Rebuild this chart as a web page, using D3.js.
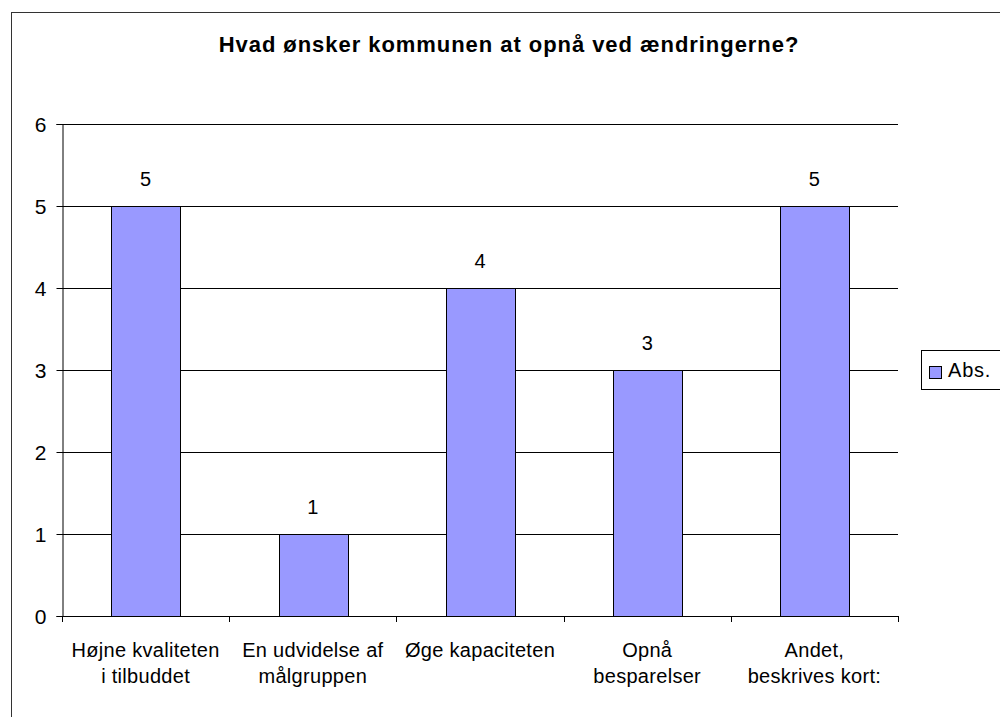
<!DOCTYPE html>
<html>
<head>
<meta charset="utf-8">
<script src="https://cdn.jsdelivr.net/npm/d3@7"></script>
<style>
  html, body { margin: 0; padding: 0; background: #fff; }
  svg { display: block; font-family: "Liberation Sans", Arial, sans-serif; }
</style>
</head>
<body>
<svg id="chart" width="1000" height="717"></svg>
<script>
// Survey answers: what the municipality wants to achieve with the changes
const categories = [
  ["Højne kvaliteten", "i tilbuddet"],
  ["En udvidelse af", "målgruppen"],
  ["Øge kapaciteten"],
  ["Opnå", "besparelser"],
  ["Andet,", "beskrives kort:"]
];
const absValues = [5, 1, 4, 3, 5];
const yTicks = [0, 1, 2, 3, 4, 5, 6];
const seriesName = "Abs.";
const chartTitle = "Hvad ønsker kommunen at opnå ved ændringerne?";

const FONT = "Liberation Sans, Arial, sans-serif";
const svg = d3.select("#chart");

// outer chart frame
svg.append("rect")
  .attr("x", 11.5).attr("y", 12.5)
  .attr("width", 1000).attr("height", 720)
  .attr("fill", "#fff").attr("stroke", "#333").attr("stroke-width", 1);

const plot = { left: 62, right: 898, top: 124, bottom: 616 };

const x = d3.scaleBand()
  .domain(d3.range(categories.length))
  .range([plot.left, plot.right])
  .paddingInner(0.59)
  .paddingOuter(0.295);

const y = d3.scaleLinear().domain([0, 6]).range([plot.bottom, plot.top]);

// title
svg.append("text")
  .attr("x", 509).attr("y", 52)
  .attr("text-anchor", "middle")
  .attr("font-size", 22).attr("font-weight", "bold")
  .attr("letter-spacing", 0.95)
  .attr("fill", "#000")
  .text(chartTitle);

// horizontal gridlines
svg.append("g")
  .selectAll("line")
  .data(yTicks.filter(d => d > 0))
  .join("line")
  .attr("x1", plot.left).attr("x2", plot.right)
  .attr("y1", d => Math.round(y(d)) + 0.5).attr("y2", d => Math.round(y(d)) + 0.5)
  .attr("stroke", "#000").attr("stroke-width", 1);

// y axis
const yAxis = svg.append("g")
  .attr("transform", `translate(${plot.left + 0.5},0)`)
  .call(d3.axisLeft(y).tickValues(yTicks).tickFormat(d3.format("d")).tickSize(6).tickPadding(10));
yAxis.attr("font-size", null).attr("font-family", null);
yAxis.selectAll("text").attr("font-size", 21).attr("fill", "#000").attr("font-family", FONT).attr("dy", "0.36em");
yAxis.selectAll("line, path").attr("stroke", "#000");

// bars
svg.append("g")
  .selectAll("rect")
  .data(absValues)
  .join("rect")
  .attr("x", (d, i) => Math.round(x(i)) + 0.5)
  .attr("y", d => Math.round(y(d)) + 0.5)
  .attr("width", Math.round(x.bandwidth()))
  .attr("height", d => Math.round(y(0)) - Math.round(y(d)))
  .attr("fill", "#9999FF")
  .attr("stroke", "#000").attr("stroke-width", 1);

// value labels
svg.append("g")
  .selectAll("text")
  .data(absValues)
  .join("text")
  .attr("x", (d, i) => x(i) + x.bandwidth() / 2)
  .attr("y", d => y(d) - 20)
  .attr("text-anchor", "middle")
  .attr("font-size", 20).attr("fill", "#000")
  .text(d => d);

// x axis with category boundary ticks
const xEdges = d3.range(categories.length + 1).map(i => plot.left + i * (plot.right - plot.left) / categories.length);
const xAxisG = svg.append("g");
xAxisG.append("line")
  .attr("x1", plot.left).attr("x2", plot.right)
  .attr("y1", plot.bottom + 0.5).attr("y2", plot.bottom + 0.5)
  .attr("stroke", "#000");
xAxisG.selectAll("line.tick")
  .data(xEdges)
  .join("line")
  .attr("class", "tick")
  .attr("x1", d => Math.round(d) + 0.5).attr("x2", d => Math.round(d) + 0.5)
  .attr("y1", plot.bottom).attr("y2", plot.bottom + 6)
  .attr("stroke", "#000");

// category labels
const catLabels = svg.append("g")
  .selectAll("text")
  .data(categories)
  .join("text")
  .attr("text-anchor", "middle")
  .attr("font-size", 20).attr("letter-spacing", 0.3).attr("fill", "#000")
  .attr("x", (d, i) => x(i) + x.bandwidth() / 2)
  .attr("y", 657);
catLabels.selectAll("tspan")
  .data(d => d)
  .join("tspan")
  .attr("x", function() { return this.parentNode.getAttribute("x"); })
  .attr("dy", (d, i) => i === 0 ? 0 : 26)
  .text(d => d);

// legend
const legend = svg.append("g");
legend.append("rect")
  .attr("x", 921.5).attr("y", 350.5)
  .attr("width", 100).attr("height", 39)
  .attr("fill", "#fff").attr("stroke", "#000");
legend.append("rect")
  .attr("x", 929.5).attr("y", 366.5)
  .attr("width", 12).attr("height", 12)
  .attr("fill", "#9999FF").attr("stroke", "#000");
legend.append("text")
  .attr("x", 948).attr("y", 377)
  .attr("font-size", 20).attr("letter-spacing", 0.8).attr("fill", "#000")
  .text(seriesName);
</script>
</body>
</html>
